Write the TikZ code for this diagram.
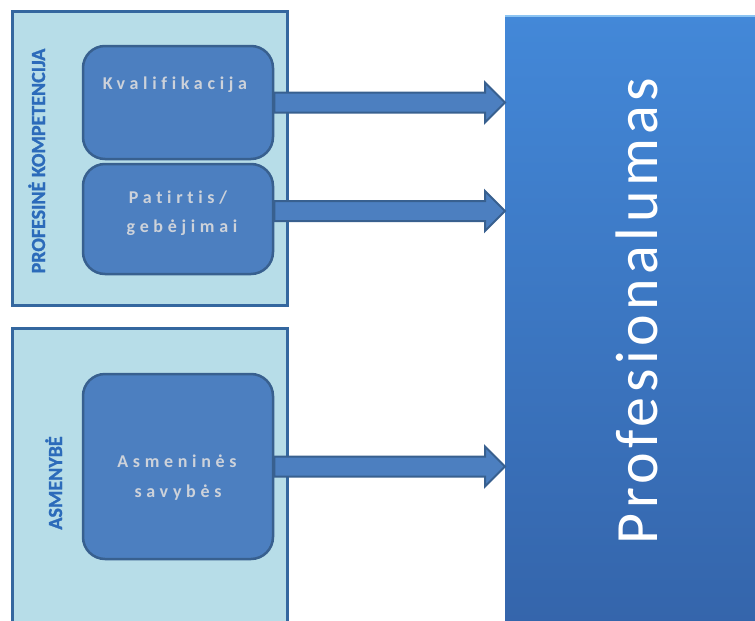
\documentclass[tikz,border=0pt]{standalone}
\usepackage{fontspec}
\setmainfont[Ligatures=NoCommon]{Carlito}
\usetikzlibrary{calc}
\definecolor{outerfill}{HTML}{B7DDE8}
\definecolor{outerline}{HTML}{34679F}
\definecolor{innerfill}{HTML}{4C7FC0}
\definecolor{innerline}{HTML}{38608F}
\definecolor{labelblue}{HTML}{2C6BBA}
\definecolor{lighttext}{HTML}{CDD2DA}
\definecolor{proftop}{HTML}{4388D8}
\definecolor{profbot}{HTML}{3464AA}
\definecolor{profedge}{HTML}{8CC4F2}
\newcommand\fatarrow[2]{%
  \draw[fatarrowstyle] ($#1+(0,-10)$) -- ($#2+(-20,-10)$) -- ($#2+(-20,-20)$) -- #2
    -- ($#2+(-20,20)$) -- ($#2+(-20,10)$) -- ($#1+(0,10)$) -- cycle;}
\begin{document}
\begin{tikzpicture}[x=1pt,y=-1pt,
  outerbox/.style={draw=outerline, fill=outerfill, line width=3pt, inner sep=0pt, minimum width=275pt},
  innerbox/.style={draw=innerline, fill=innerfill, line width=2.5pt, rounded corners=22pt, inner sep=0pt, minimum width=190pt},
  fatarrowstyle/.style={draw=innerline, fill=innerfill, line width=2pt, line join=miter},
  boxtext/.style={text=lighttext, inner sep=0pt, anchor=base, font=\fontsize{18}{21}\selectfont\bfseries\addfontfeature{LetterSpace=26}},
  sidelabel/.style={text=labelblue, inner sep=0pt, anchor=base, rotate=90, font=\fontsize{20}{24}\selectfont\bfseries\addfontfeature{FakeBold=1.2}},
  profbox/.style={shading=axis, top color=proftop, bottom color=profbot, draw=none, inner sep=0pt, minimum width=265pt, minimum height=625pt},
  proftext/.style={text=white, inner sep=0pt, anchor=base, rotate=90, font=\fontsize{60}{70}\selectfont\addfontfeature{LetterSpace=7.5}}
]
\useasboundingbox (0,0) rectangle (755,621);
\clip (0,0) rectangle (755,621);

% outer panels
\node[outerbox, minimum height=294pt] (o1) at (150,158.25) {};
\node[outerbox, minimum height=312pt] (o2) at (150,484) {};

% big target box
\node[profbox, anchor=north west] (P) at (505,15) {};
\draw[profedge, line width=2pt] ($(P.north west)+(0,1)$) -- ($(P.north east)+(0,1)$);

% inner boxes
\node[innerbox, minimum height=113pt] (k) at (178,102.5) {};
\node[innerbox, minimum height=110pt] (pa) at (178,219) {};
\node[innerbox, minimum height=185pt] (as) at (178,466.5) {};

% arrows
\coordinate (a2s) at ($(pa.east)+(0,-8)$);
\fatarrow{(k.east)}{(P.west |- k.east)}
\fatarrow{(a2s)}{(P.west |- a2s)}
\fatarrow{(as.east)}{(P.west |- as.east)}

% texts
\node[boxtext] (kt) at (175,89) {Kvalifikacija};
\node[boxtext] (pt1) at (178,203) {Patirtis/};
\node[boxtext] (pt2) at (182,232) {gebėjimai};
\node[boxtext] (at1) at (177,467) {Asmeninės};
\node[boxtext] (at2) at (178,497) {savybės};

\node[sidelabel] (l1) at (45,161) {PROFESINĖ KOMPETENCIJA};
\node[sidelabel] (l2) at (62,483) {ASMENYBĖ};

\node[proftext] (pl) at (657,311) {Profesionalumas};
\end{tikzpicture}
\end{document}
